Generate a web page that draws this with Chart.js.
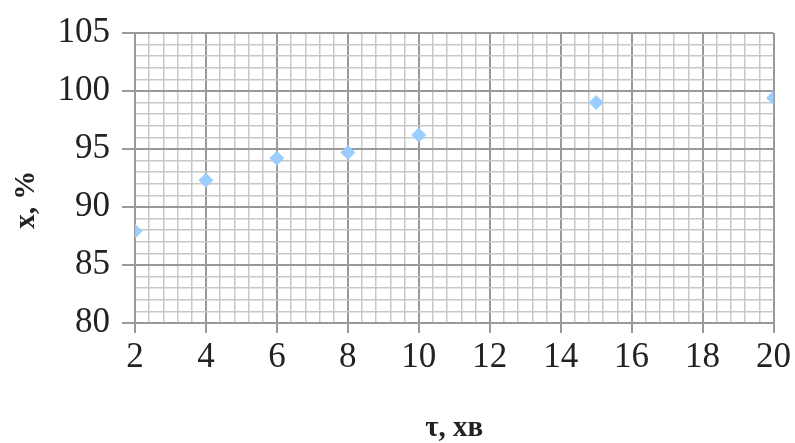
<!DOCTYPE html>
<html>
<head>
<meta charset="utf-8">
<script src="https://cdn.jsdelivr.net/npm/chart.js@4.4.1/dist/chart.umd.min.js"></script>
<style>
html,body{margin:0;padding:0;background:#fff;}
#wrap{width:795px;height:443px;}
</style>
</head>
<body>
<div id="wrap"><canvas id="c" width="795" height="443"></canvas></div>
<script>
const timeMin = [2, 4, 6, 8, 10, 15, 20];
const conversion = [87.9, 92.3, 94.2, 94.7, 96.2, 99.0, 99.4];
const xTitle = 'τ, хв';
const yTitle = 'x, %';

const isMul = (v, m) => Math.abs(v / m - Math.round(v / m)) < 1e-6;
const MAJOR = '#999999', MINOR = '#c8c8c8';
const serif = '"Liberation Serif"';

new Chart(document.getElementById('c'), {
  type: 'scatter',
  data: {
    datasets: [{
      data: timeMin.map((t, i) => ({x: t, y: conversion[i]})),
      pointStyle: 'rectRot',
      pointRadius: 7.5,
      pointHoverRadius: 7.5,
      backgroundColor: '#9ccdff',
      borderColor: '#9ccdff',
      borderWidth: 0
    }]
  },
  options: {
    responsive: false,
    animation: false,
    layout: {padding: {top: 30, right: 21, left: 0, bottom: 0}},
    plugins: {legend: {display: false}, tooltip: {enabled: false}},
    scales: {
      x: {
        type: 'linear', min: 2, max: 20,
        afterFit: s => { s.height = 120; },
        ticks: {
          stepSize: 0.4, autoSkip: false, maxRotation: 0,
          font: {family: serif, size: 35}, color: '#222', padding: 4,
          callback: v => isMul(v, 2) ? String(Math.round(v)) : ''
        },
        grid: {
          color: c => isMul(c.tick.value, 2) ? MAJOR : MINOR,
          lineWidth: c => isMul(c.tick.value, 2) ? 2 : 1.5,
          tickColor: c => isMul(c.tick.value, 2) ? MAJOR : 'rgba(0,0,0,0)',
          tickLength: 10
        },
        border: {color: MAJOR, width: 2},
        title: {display: true, text: xTitle, font: {family: serif, size: 29, weight: 'bold', lineHeight: 1}, color: '#222', padding: {top: 0, bottom: 0}}
      },
      y: {
        type: 'linear', min: 80, max: 105,
        afterFit: s => { s.width = 135; },
        ticks: {
          stepSize: 1, autoSkip: false,
          font: {family: serif, size: 35}, color: '#222', padding: 12,
          callback: v => isMul(v, 5) ? String(Math.round(v)) : ''
        },
        grid: {
          color: c => isMul(c.tick.value, 5) ? MAJOR : MINOR,
          lineWidth: c => isMul(c.tick.value, 5) ? 2 : 1.5,
          tickColor: c => isMul(c.tick.value, 5) ? MAJOR : 'rgba(0,0,0,0)',
          tickLength: 13
        },
        border: {color: MAJOR, width: 2},
        title: {display: true, text: yTitle + '\u00a0\u00a0\u00a0\u00a0\u00a0\u00a0', font: {family: serif, size: 29, weight: 'bold', lineHeight: 1}, color: '#222', padding: {top: 12, bottom: 0}}
      }
    }
  }
});
</script>
</body>
</html>
